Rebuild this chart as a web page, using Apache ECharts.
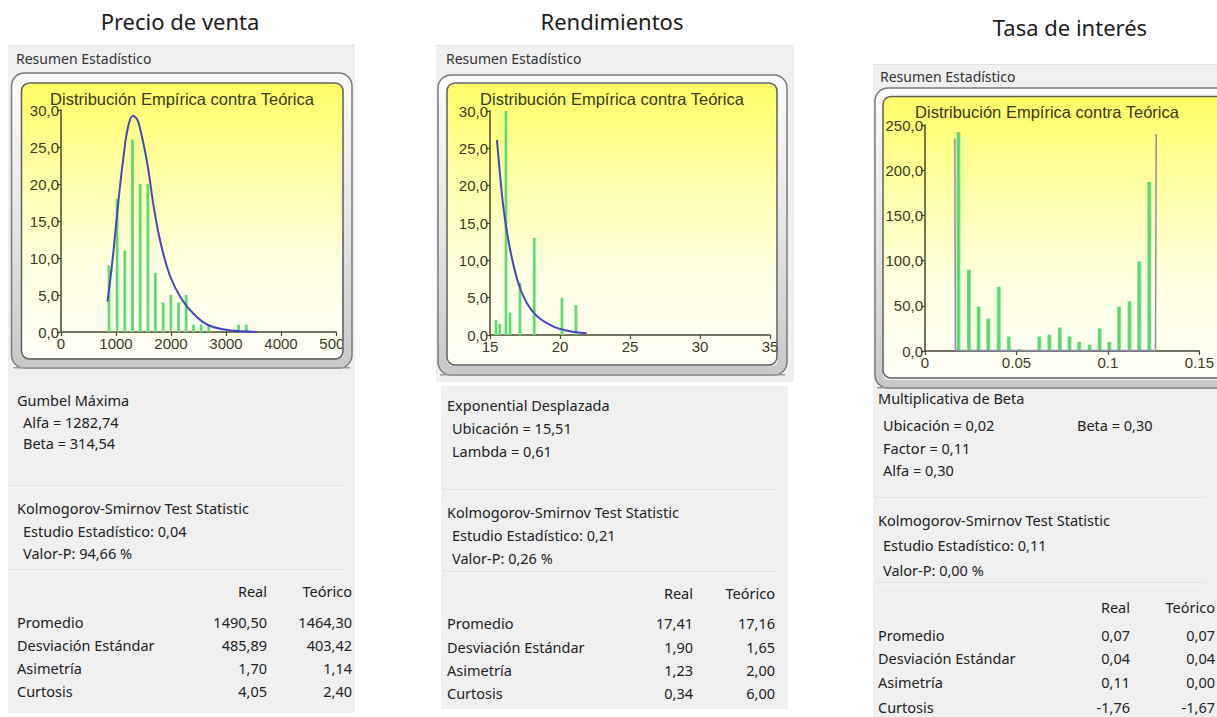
<!DOCTYPE html>
<html><head><meta charset="utf-8">
<script src="https://cdn.jsdelivr.net/npm/echarts@6/dist/echarts.min.js"></script>
<style>html,body{margin:0;padding:0;background:#fff;}#c{width:1217px;height:717px;}</style>
</head><body><div id="c"></div>
<script>
// ---------- DATA ----------
const panelTitles = ['Precio de venta', 'Rendimientos', 'Tasa de interés'];
const headerText = 'Resumen Estadístico';
const chartTitle = 'Distribución Empírica contra Teórica';
const statCols = ['Real', 'Teórico'];
const statRows = ['Promedio', 'Desviación Estándar', 'Asimetría', 'Curtosis'];
const ksTitle = 'Kolmogorov-Smirnov Test Statistic';

// Precio de venta
const precioXTicks = [0, 1000, 2000, 3000, 4000, 5000];
const precioYTicks = [0, 5, 10, 15, 20, 25, 30];
const precioBinX = [873, 1020, 1160, 1300, 1440, 1580, 1715, 1858, 1998, 2138, 2275, 2410, 2547, 2685, 3230, 3370];
const precioFreq = [9, 18, 11, 26, 20, 20, 8, 4, 5, 4, 5, 1, 1, 1, 1, 1];
const precioCurveX = [845, 934, 1043, 1140, 1219, 1305, 1380, 1431, 1564, 1691, 1807, 1976, 2188, 2431, 2673, 3007, 3300, 3560];
const precioCurveY = [4.1, 9.5, 17.6, 23.9, 27.7, 29.2, 28.8, 27.7, 23.0, 16.7, 12.2, 7.7, 4.5, 2.3, 0.95, 0.3, 0.1, 0];
const precioDist = ['Gumbel Máxima', 'Alfa = 1282,74', 'Beta = 314,54'];
const precioKS = ['Estudio Estadístico: 0,04', 'Valor-P: 94,66 %'];
const precioReal = ['1490,50', '485,89', '1,70', '4,05'];
const precioTeo = ['1464,30', '403,42', '1,14', '2,40'];

// Rendimientos
const rendXTicks = [15, 20, 25, 30, 35];
const rendYTicks = [0, 5, 10, 15, 20, 25, 30];
const rendBinX = [15.43, 15.7, 16.14, 16.43, 17.14, 18.16, 20.14, 21.14];
const rendFreq = [2, 1.5, 30, 3, 7, 13, 5, 4];
const rendCurveX = [15.5, 15.69, 15.93, 16.17, 16.52, 17.0, 17.6, 18.43, 19.62, 20.81, 21.9];
const rendCurveY = [26.1, 22.0, 17.5, 14.3, 10.7, 7.1, 4.4, 2.4, 1.06, 0.47, 0.25];
const rendDist = ['Exponential Desplazada', 'Ubicación = 15,51', 'Lambda = 0,61'];
const rendKS = ['Estudio Estadístico: 0,21', 'Valor-P: 0,26 %'];
const rendReal = ['17,41', '1,90', '1,23', '0,34'];
const rendTeo = ['17,16', '1,65', '2,00', '6,00'];

// Tasa de interés
const tasaXTicks = [0, 0.05, 0.1, 0.15];
const tasaYTicks = [0, 50, 100, 150, 200, 250];
const tasaBinX = [0.0183, 0.024, 0.0293, 0.0346, 0.0403, 0.0458, 0.0515, 0.0568, 0.0625, 0.068, 0.0737, 0.079, 0.0843, 0.09, 0.0955, 0.1008, 0.1061, 0.1118, 0.1171, 0.1226];
const tasaFreq = [242, 90, 49, 36, 71, 16, 2, 1, 16, 18, 26, 16, 10, 7, 25, 10, 49, 55, 99, 187];
const tasaCurveX = [0.0163, 0.0166, 0.126, 0.1264];
const tasaCurveY = [235, 0.5, 0.5, 240];
const tasaDist = ['Multiplicativa de Beta', 'Ubicación = 0,02', 'Factor = 0,11', 'Alfa = 0,30'];
const tasaDistExtra = 'Beta = 0,30';
const tasaKS = ['Estudio Estadístico: 0,11', 'Valor-P: 0,00 %'];
const tasaReal = ['0,07', '0,04', '0,11', '-1,76'];
const tasaTeo = ['0,07', '0,04', '0,00', '-1,67'];

// ---------- LAYOUT ----------
const zip = (a, b) => a.map((v, i) => [v, b[i]]);
const panels = [
  { title: panelTitles[0], tx: 180, ty: 21,
    bgTop: [8, 45, 347, 335], bgBot: [8, 380, 347, 333], hdr: [16, 58],
    outer: [11.5, 73, 340.5, 295], inner: [21.5, 83, 321.5, 276],
    grid: { left: 61, top: 110, width: 275, height: 222 }, ctx: 182, cty: 99,
    xt: precioXTicks, yt: precioYTicks, bx: precioBinX, by: precioFreq, cx: precioCurveX, cy: precioCurveY,
    smooth: true, barW: 3, curveColor: '#4746c2', curveW: 2,
    tl: 17, pl: 23, rc: 267, tc: 352, dist: precioDist, distY: [400, 422, 443], extra: null,
    sep1: 486, ks: precioKS, ksY: [508, 531, 553], sep2: 570, hY: 591, sY: [622, 645, 668, 691],
    real: precioReal, teo: precioTeo },
  { title: panelTitles[1], tx: 612, ty: 21,
    bgTop: [436, 45, 358, 337], bgBot: [441, 386, 347, 323], hdr: [446, 58],
    outer: [438, 75, 349, 300], inner: [447, 83, 330, 282],
    grid: { left: 490, top: 111, width: 280, height: 224 }, ctx: 612, cty: 99,
    xt: rendXTicks, yt: rendYTicks, bx: rendBinX, by: rendFreq, cx: rendCurveX, cy: rendCurveY,
    smooth: true, barW: 3, curveColor: '#4746c2', curveW: 2,
    tl: 447, pl: 452, rc: 693, tc: 775, dist: rendDist, distY: [405, 428, 451], extra: null,
    sep1: 490, ks: rendKS, ksY: [512, 535, 558], sep2: 572, hY: 593, sY: [623, 647, 670, 693],
    real: rendReal, teo: rendTeo },
  { title: panelTitles[2], tx: 1070, ty: 27,
    bgTop: [873, 64, 344, 326], bgBot: [873, 390, 344, 327], hdr: [880, 76],
    outer: [875, 88, 360, 300], inner: [883, 96.5, 345, 281.5],
    grid: { left: 925, top: 125, width: 281, height: 226 }, ctx: 1047, cty: 112,
    xt: tasaXTicks, yt: tasaYTicks, bx: tasaBinX, by: tasaFreq, cx: tasaCurveX, cy: tasaCurveY,
    smooth: false, barW: 4, curveColor: '#8a8db4', curveW: 1.5,
    tl: 878, pl: 883, rc: 1130, tc: 1215, dist: tasaDist, distY: [398, 425, 448, 470], extra: [1077, 425],
    sep1: 498, ks: tasaKS, ksY: [520, 545, 570], sep2: 583, hY: 607, sY: [635, 658, 682, 707],
    real: tasaReal, teo: tasaTeo }
];

const TXT = '14.5px "Noto Sans"';
const G = [];
function rect(x, y, w, h, style, r, z) {
  G.push({ type: 'rect', z: z, silent: true, shape: { x: x, y: y, width: w, height: h, r: r || 0 }, style: style });
}
function text(x, y, t, font, fill, align, z) {
  G.push({ type: 'text', z: z || 5, silent: true, x: x, y: y,
    style: { text: t, font: font, fill: fill, textAlign: align || 'left', textVerticalAlign: 'middle' } });
}
function hline(x1, x2, y, stroke, z) {
  G.push({ type: 'line', z: z, silent: true, shape: { x1: x1, y1: y, x2: x2, y2: y }, style: { stroke: stroke, lineWidth: 1 } });
}
const grad = (stops) => ({ type: 'linear', x: 0, y: 0, x2: 0, y2: 1, colorStops: stops.map((c, i) => ({ offset: i / (stops.length - 1), color: c })) });

const grids = [], xAxes = [], yAxes = [], series = [];
const axisCol = '#48482c';
const labCol = '#3c3c22';

panels.forEach((p, i) => {
  text(p.tx, p.ty, p.title, '22px "Noto Sans"', '#1c1c1c', 'center', 5);
  rect(p.bgTop[0], p.bgTop[1], p.bgTop[2], p.bgTop[3], { fill: '#f0f0f0' }, 0, -20);
  rect(p.bgBot[0], p.bgBot[1], p.bgBot[2], p.bgBot[3], { fill: '#f0f0f0' }, 0, -20);
  hline(p.bgTop[0], p.bgTop[0] + p.bgTop[2], p.bgTop[1] + 0.5, '#e2e2e2', -19);
  text(p.hdr[0], p.hdr[1], headerText, '14px "Noto Sans"', '#333', 'left', 5);
  const [ix, iy, iw, ih] = p.inner;
  rect(ix, iy, iw, ih, { fill: grad(['#ffff64', '#ffffa8', '#ffffe2', '#fffff8']) }, 8, -10);
  const [ox, oy, ow, oh] = p.outer;
  const ring = (ix - ox);
  rect(ox + ring / 2, oy + ring / 2, ow - ring, oh - ring,
    { fill: 'none', stroke: grad(['#fbfbfb', '#e6e6e6', '#c9c9c9']), lineWidth: ring }, 10, 50);
  rect(ox, oy, ow, oh, { fill: 'none', stroke: '#7a7a7a', lineWidth: 1.5 }, 13, 51);
  rect(ox + 2, oy + oh - 1, ow - 4, 1.5, { fill: '#9a9a9a' }, 0, 51);
  rect(ix, iy, iw, ih, { fill: 'none', stroke: '#5e5e5e', lineWidth: 1.5 }, 8, 51);
  text(p.ctx, p.cty, chartTitle, '16.5px "Liberation Sans"', '#3a3a18', 'center', 20);

  p.dist.forEach((t, k) => text(k === 0 ? p.tl : p.pl, p.distY[k], t, TXT, '#222', 'left', 5));
  if (p.extra) text(p.extra[0], p.extra[1], tasaDistExtra, TXT, '#222', 'left', 5);
  hline(p.bgBot[0] + 2, p.bgBot[0] + p.bgBot[2] - 12, p.sep1, '#d9d9d9', 2);
  hline(p.bgBot[0] + 2, p.bgBot[0] + p.bgBot[2] - 12, p.sep1 + 1, '#fbfbfb', 2);
  text(p.tl, p.ksY[0], ksTitle, TXT, '#222', 'left', 5);
  p.ks.forEach((t, k) => text(p.pl, p.ksY[k + 1], t, TXT, '#222', 'left', 5));
  hline(p.bgBot[0] + 2, p.bgBot[0] + p.bgBot[2] - 12, p.sep2, '#d9d9d9', 2);
  hline(p.bgBot[0] + 2, p.bgBot[0] + p.bgBot[2] - 12, p.sep2 + 1, '#fbfbfb', 2);
  text(p.rc, p.hY, statCols[0], TXT, '#222', 'right', 5);
  text(p.tc, p.hY, statCols[1], TXT, '#222', 'right', 5);
  statRows.forEach((r, k) => {
    text(p.tl, p.sY[k], r, TXT, '#222', 'left', 5);
    text(p.rc, p.sY[k], p.real[k], TXT, '#222', 'right', 5);
    text(p.tc, p.sY[k], p.teo[k], TXT, '#222', 'right', 5);
  });

  grids.push(Object.assign({ containLabel: false }, p.grid));
  const common = {
    gridIndex: i, type: 'value',
    axisLine: { show: true, onZero: false, lineStyle: { color: axisCol, width: 1.5 } },
    axisTick: { show: true, length: 4, lineStyle: { color: axisCol, width: 1.2 } },
    splitLine: { show: false },
  };
  xAxes.push(Object.assign({}, common, {
    min: p.xt[0], max: p.xt[p.xt.length - 1], interval: p.xt[1] - p.xt[0],
    axisLabel: { color: labCol, fontSize: 15, fontFamily: 'Liberation Sans', margin: 4, showMaxLabel: true, showMinLabel: true, hideOverlap: false,
      formatter: v => String(+v.toFixed(4)) }
  }));
  yAxes.push(Object.assign({}, common, {
    min: p.yt[0], max: p.yt[p.yt.length - 1], interval: p.yt[1] - p.yt[0],
    axisLabel: { color: labCol, fontSize: 15, fontFamily: 'Liberation Sans', margin: 2, showMaxLabel: true, showMinLabel: true,
      formatter: v => v.toFixed(1).replace('.', ',') }
  }));
  series.push({
    type: 'bar', xAxisIndex: i, yAxisIndex: i, barWidth: p.barW, data: zip(p.bx, p.by), z: 3,
    itemStyle: { color: { type: 'linear', x: 0, y: 0, x2: 1, y2: 0, colorStops: [{ offset: 0, color: '#7fe58c' }, { offset: 0.5, color: '#4fd465' }, { offset: 1, color: '#86e692' }] } },
    silent: true, animation: false
  });
  series.push({
    type: 'line', xAxisIndex: i, yAxisIndex: i, data: zip(p.cx, p.cy), smooth: p.smooth ? 0.4 : false,
    symbol: 'none', lineStyle: { color: p.curveColor, width: p.curveW }, z: 4, silent: true, animation: false
  });
});

const chart = echarts.init(document.getElementById('c'), null, { renderer: 'svg', width: 1217, height: 717 });
chart.setOption({
  backgroundColor: '#ffffff',
  animation: false,
  grid: grids, xAxis: xAxes, yAxis: yAxes, series: series,
  graphic: { elements: G }
});
</script></body></html>
